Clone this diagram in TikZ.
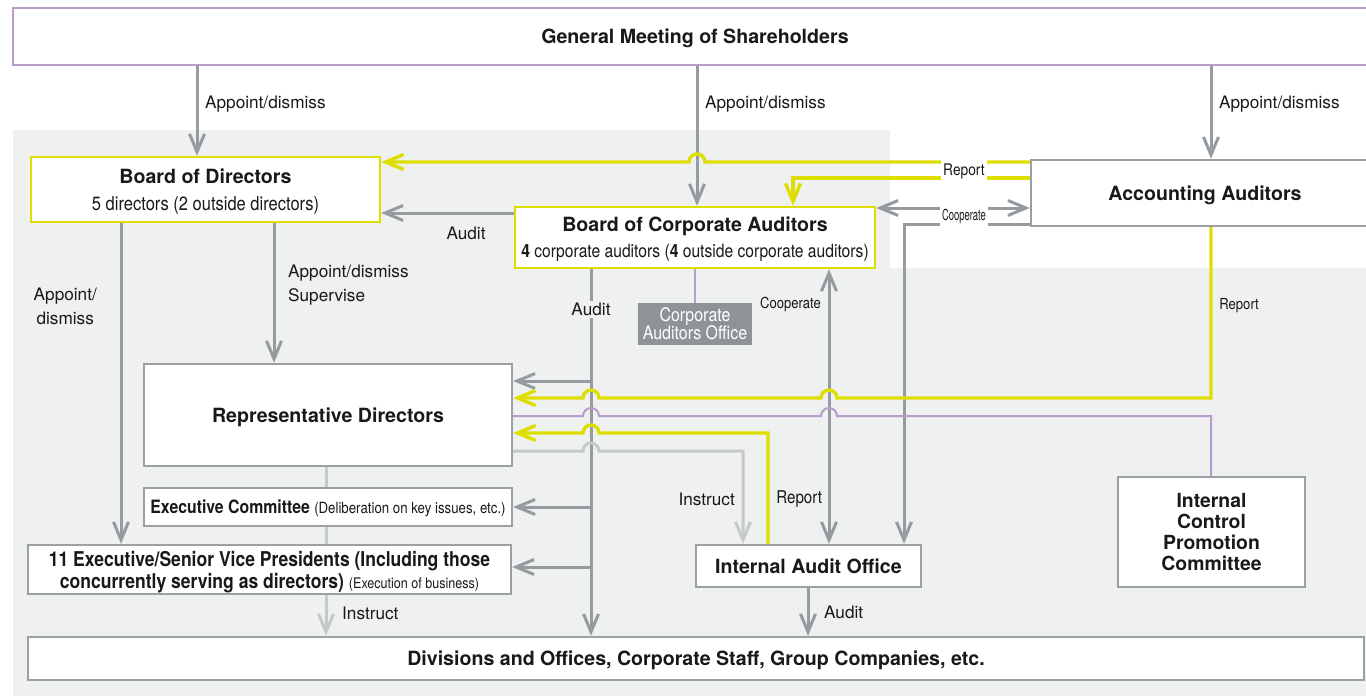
\documentclass[tikz,border=0pt]{standalone}
\usepackage{fontspec}
\setmainfont{TeX Gyre Heros}
\newfontfamily\condfont[FakeStretch=0.86]{TeX Gyre Heros}
\newfontfamily\squashfont[FakeStretch=0.62]{TeX Gyre Heros}
\usepackage{xcolor}
\usepackage{tikz}
\usetikzlibrary{arrows.meta, positioning}

\definecolor{bggrey}{RGB}{239,240,240}
\definecolor{boxgrey}{RGB}{155,160,164}
\definecolor{linegrey}{RGB}{150,155,160}
\definecolor{softgrey}{RGB}{198,201,204}
\definecolor{yellowline}{RGB}{222,223,0}
\definecolor{lilac}{RGB}{182,157,206}
\definecolor{caogrey}{RGB}{142,147,152}
\definecolor{ink}{RGB}{25,25,25}
\newcommand\boxtitle{\fontsize{9.8}{12}\selectfont\bfseries}

\begin{document}
\begin{tikzpicture}[x=0.5pt, y=-0.5pt, >={Straight Barb[length=9pt,width=7.5pt]},
    box/.style={draw=boxgrey, line width=1.2pt, fill=white, inner sep=0pt, text depth=0pt, text=ink},
    arr/.style={draw=linegrey, line width=1.5pt},
    soft/.style={draw=softgrey, line width=1.5pt},
    yel/.style={draw=yellowline, line width=1.7pt},
    lil/.style={draw=lilac, line width=1pt},
    lbl/.style={font=\fontsize{8.6}{12}\selectfont, text=ink},
    gap/.style={fill=white, text=ink, inner xsep=1pt, inner ysep=0pt, minimum height=12pt}]
    % 1. Nền
    \useasboundingbox (0,0) rectangle (1366,696);
    \fill[bggrey] (13,130) -- (890,130) -- (890,268) -- (1366,268) -- (1366,696) -- (13,696) -- cycle;

    % 2. Các khối
    \node[box, draw=lilac, line width=1pt, minimum width=682pt, minimum height=28.5pt, font=\boxtitle] (gm) at (695,36.5) {General Meeting of Shareholders};
    \node[box, draw=yellowline, minimum width=174.5pt, minimum height=32.5pt, align=center, font=\fontsize{9.8}{13.5}\selectfont] (bod) at (205.5,189.5)
        {\textbf{Board of Directors}\\{\condfont\fontsize{9.6}{13.5}\selectfont 5 directors (2 outside directors)}};
    \node[box, draw=yellowline, minimum width=180pt, minimum height=30.5pt, align=center, font=\fontsize{9.8}{13}\selectfont] (bca) at (695,237.5)
        {\textbf{Board of Corporate Auditors}\\{\condfont\fontsize{9.1}{13}\selectfont\textbf{4} corporate auditors (\textbf{4} outside corporate auditors)}};
    \node[box, minimum width=174pt, minimum height=33pt, font=\boxtitle] (aa) at (1205,193) {Accounting Auditors};
    \node[fill=caogrey, text=white, inner sep=0pt, minimum width=57pt, minimum height=21pt, align=center, font=\condfont\fontsize{9.3}{9}\selectfont] (cao) at (695,324) {Corporate\\Auditors Office};
    \node[box, minimum width=184pt, minimum height=51pt, font=\boxtitle] (rd) at (328,415) {Representative Directors};
    \node[box, minimum width=184pt, minimum height=19pt, font=\condfont\fontsize{9.2}{11}\selectfont] (ec) at (328,507)
        {\textbf{Executive Committee} {\fontsize{7.7}{11}\selectfont(Deliberation on key issues, etc.)}};
    \node[box, minimum width=241.5pt, minimum height=24.5pt, align=center, font=\condfont\fontsize{10.2}{11}\selectfont\bfseries] (evp) at (269.5,569.5)
        {11 Executive/Senior Vice Presidents (Including those\\concurrently serving as directors) {\mdseries\fontsize{7.3}{11}\selectfont(Execution of business)}};
    \node[box, minimum width=112.5pt, minimum height=21pt, font=\boxtitle] (iao) at (808.5,566) {Internal Audit Office};
    \node[box, minimum width=93.5pt, minimum height=55pt, align=center, font=\fontsize{9.7}{10.5}\selectfont\bfseries] (icpc) at (1211.5,532) {Internal\\Control\\Promotion\\Committee};
    \node[box, minimum width=668pt, minimum height=21.5pt, font=\boxtitle] (div) at (696,658.5) {Divisions and Offices, Corporate Staff, Group Companies, etc.};

    % 3. Bổ nhiệm / miễn nhiệm
    \draw[arr, ->] (197,0 |- gm.south) -- node[lbl, pos=0.42, right] {Appoint/dismiss} (197,0 |- bod.north);
    \draw[arr, ->] (697,0 |- gm.south) -- node[lbl, pos=0.27, right] {Appoint/dismiss} (697,0 |- bca.north);
    \draw[arr, ->] (1211,0 |- gm.south) -- node[lbl, pos=0.41, right] {Appoint/dismiss} (1211,0 |- aa.north);
    \draw[arr, ->] (121,0 |- bod.south) -- node[lbl, pos=0.26, left=8pt, align=center] {Appoint/\\dismiss} (121,0 |- evp.north);
    \draw[arr, ->] (274,0 |- bod.south) -- node[lbl, pos=0.44, right=3pt, align=left] {Appoint/dismiss\\Supervise} (274,0 |- rd.north);

    % 4. Kiểm toán và phối hợp
    \draw[arr, ->] (bca.west |- 0,213) -- node[lbl, pos=0.36, below=3pt] {Audit} (bod.east |- 0,213);
    \draw[arr, ->] (591,0 |- bca.south) -- node[lbl, pos=0.11, fill=bggrey, inner ysep=1pt] {Audit} (591,0 |- div.north);
    \draw[arr, ->] (591,381) -- (rd.east |- 0,381);
    \draw[arr, ->] (591,0 |- ec.east) -- (ec.east);
    \draw[arr, ->] (591,567) -- (evp.east |- 0,567);
    \draw[arr, <->] (bca.east |- 0,208) -- (aa.west |- 0,208);
    \draw[arr, ->] (aa.west |- 0,224) -- (904,224) -- (904,0 |- iao.north);
    \draw[arr, <->] (829,0 |- bca.south) -- node[pos=0.13, left, text=ink, font=\condfont\fontsize{7.6}{9}\selectfont] {Cooperate} (829,0 |- iao.north);
    \draw[arr, ->] (808,0 |- iao.south) -- node[lbl, pos=0.5, right=4pt] {Audit} (808,0 |- div.north);

    % 5. Báo cáo (vàng) và đường tím
    \draw[yel, ->] (aa.west |- 0,162) -- (705,162) arc[start angle=0, end angle=-180, radius=8] -- (bod.east |- 0,162);
    \draw[yel, ->] (aa.west |- 0,178) -- (793,178) -- (793,0 |- bca.north);
    \draw[yel, ->] (1211,0 |- aa.south) -- node[pos=0.46, right, text=ink, font=\condfont\fontsize{7.6}{9}\selectfont] {Report} (1211,398)
        -- (837,398) arc[start angle=0, end angle=-180, radius=8] -- (599,398) arc[start angle=0, end angle=-180, radius=8] -- (rd.east |- 0,398);
    \draw[lil] (1211,0 |- icpc.north) -- (1211,416) -- (837,416) arc[start angle=0, end angle=-180, radius=8]
        -- (599,416) arc[start angle=0, end angle=-180, radius=8] -- (rd.east |- 0,416);
    \draw[yel, ->] (768,0 |- iao.north) -- node[pos=0.4, right, text=ink, font=\condfont\fontsize{8.8}{10}\selectfont] {Report} (768,433)
        -- (599,433) arc[start angle=0, end angle=-180, radius=8] -- (rd.east |- 0,433);
    \draw[lil] (bca.south) -- (cao.north);
    \node[gap, font=\condfont\fontsize{8}{9}\selectfont] (rep) at (964,171) {Report};
    \node[gap, font=\squashfont\fontsize{7.6}{9}\selectfont] (coop) at (964,216) {Cooperate};

    % 6. Chỉ thị
    \draw[soft, ->] (rd.east |- 0,451) -- (583,451) arc[start angle=180, end angle=360, radius=8] -- (743,451)
        -- node[lbl, pos=0.52, left] {Instruct} (743,0 |- iao.north);
    \draw[soft] (326,0 |- rd.south) -- (326,0 |- ec.north);
    \draw[soft] (326,0 |- ec.south) -- (326,0 |- evp.north);
    \draw[soft, ->] (326,0 |- evp.south) -- node[lbl, pos=0.44, right=4pt] {Instruct} (326,0 |- div.north);
\end{tikzpicture}
\end{document}
